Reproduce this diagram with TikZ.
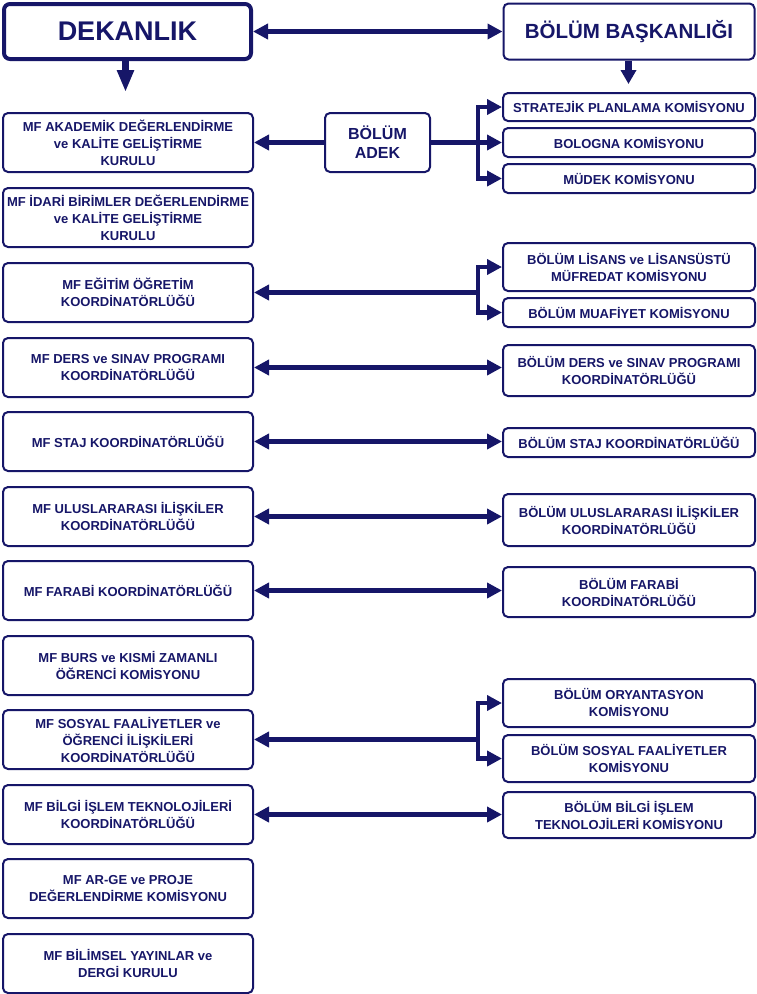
\documentclass[tikz,border=0pt]{standalone}
\usepackage{fontspec}
\setmainfont{Liberation Sans}
\usetikzlibrary{arrows.meta}
\definecolor{navy}{RGB}{22,22,104}
\begin{document}
\begin{tikzpicture}[x=1pt,y=-1pt,
  every node/.style={text=navy,align=center,inner sep=0pt},
  box/.style={draw=navy,line width=2pt,rounded corners=5pt,fill=white,
    font=\bfseries\fontsize{13}{17}\selectfont},
  lbox/.style={box,minimum width=250pt,minimum height=59pt},
  rbox/.style={box,minimum width=252pt},
  conn/.style={draw=navy,line width=4.3pt},
  arr/.style={conn,-{Triangle[length=15pt,width=15pt]}},
  darr/.style={conn,{Triangle[length=15pt,width=15pt]}-{Triangle[length=15pt,width=15pt]}},
  downarr/.style={draw=navy,line width=7pt,-{Triangle[length=22pt,width=16pt]}},
  downarrb/.style={draw=navy,line width=7.5pt,-{Triangle[length=14pt,width=15pt]}}]
\useasboundingbox (0,0) rectangle (757,994);

% top boxes
\node[draw=navy,line width=4pt,rounded corners=6pt,minimum width=247pt,minimum height=55pt,
  font=\bfseries\fontsize{27}{31}\selectfont] (dek) at (127.5,31.5) {DEKANLIK};
\node[box,minimum width=251pt,minimum height=56pt,font=\bfseries\fontsize{20.5}{24}\selectfont]
  (bb) at (629,31.5) {BÖLÜM BAŞKANLIĞI};
\draw[darr] (dek.east) -- (bb.west);
\coordinate (dekd) at (125.5,92);
\coordinate (bbd) at (628.5,84);
\draw[downarr] (dek.south -| dekd) -- (dekd);
\draw[downarrb] (bb.south -| bbd) -- (bbd);

% left column
\node[lbox] (l1) at (128,142.5) {MF AKADEMİK DEĞERLENDİRME\\ve KALİTE GELİŞTİRME\\KURULU};
\node[lbox] (l2) at (128,217.5) {MF İDARİ BİRİMLER DEĞERLENDİRME\\ve KALİTE GELİŞTİRME\\KURULU};
\node[lbox] (l3) at (128,292.5) {MF EĞİTİM ÖĞRETİM\\KOORDİNATÖRLÜĞÜ};
\node[lbox] (l4) at (128,367.5) {MF DERS ve SINAV PROGRAMI\\KOORDİNATÖRLÜĞÜ};
\node[lbox] (l5) at (128,441.5) {MF STAJ KOORDİNATÖRLÜĞÜ};
\node[lbox] (l6) at (128,516.5) {MF ULUSLARARASI İLİŞKİLER\\KOORDİNATÖRLÜĞÜ};
\node[lbox] (l7) at (128,590.5) {MF FARABİ KOORDİNATÖRLÜĞÜ};
\node[lbox] (l8) at (128,665.5) {MF BURS ve KISMİ ZAMANLI\\ÖĞRENCİ KOMİSYONU};
\node[lbox] (l9) at (128,739.5) {MF SOSYAL FAALİYETLER ve\\ÖĞRENCİ İLİŞKİLERİ\\KOORDİNATÖRLÜĞÜ};
\node[lbox] (l10) at (128,814.5) {MF BİLGİ İŞLEM TEKNOLOJİLERİ\\KOORDİNATÖRLÜĞÜ};
\node[lbox] (l11) at (128,888.5) {MF AR-GE ve PROJE\\DEĞERLENDİRME KOMİSYONU};
\node[lbox] (l12) at (128,963.5) {MF BİLİMSEL YAYINLAR ve\\DERGİ KURULU};

% ADEK
\node[box,minimum width=105pt,minimum height=59pt,font=\bfseries\fontsize{16}{19}\selectfont]
  (adek) at (377.5,142.5) {BÖLÜM\\ADEK};

% right column
\node[rbox,minimum height=28pt] (r1) at (629,107) {STRATEJİK PLANLAMA KOMİSYONU};
\node[rbox,minimum height=29pt] (r2) at (629,142.5) {BOLOGNA KOMİSYONU};
\node[rbox,minimum height=29pt] (r3) at (629,178.5) {MÜDEK KOMİSYONU};
\node[rbox,minimum height=48pt] (r4) at (629,267) {BÖLÜM LİSANS ve LİSANSÜSTÜ\\MÜFREDAT KOMİSYONU};
\node[rbox,minimum height=29pt] (r5) at (629,312.5) {BÖLÜM MUAFİYET KOMİSYONU};
\node[rbox,minimum height=51pt] (r6) at (629,370.5) {BÖLÜM DERS ve SINAV PROGRAMI\\KOORDİNATÖRLÜĞÜ};
\node[rbox,minimum height=29pt] (r7) at (629,442.5) {BÖLÜM STAJ KOORDİNATÖRLÜĞÜ};
\node[rbox,minimum height=52pt] (r8) at (629,520) {BÖLÜM ULUSLARARASI İLİŞKİLER\\KOORDİNATÖRLÜĞÜ};
\node[rbox,minimum height=50pt] (r9) at (629,592) {BÖLÜM FARABİ\\KOORDİNATÖRLÜĞÜ};
\node[rbox,minimum height=48pt] (r10) at (629,703) {BÖLÜM ORYANTASYON\\KOMİSYONU};
\node[rbox,minimum height=47pt] (r11) at (629,758.5) {BÖLÜM SOSYAL FAALİYETLER\\KOMİSYONU};
\node[rbox,minimum height=46pt] (r12) at (629,815) {BÖLÜM BİLGİ İŞLEM\\TEKNOLOJİLERİ KOMİSYONU};

% ADEK connectors
\draw[arr] (adek.west) -- (l1.east);
\coordinate (j1) at (478,142.5);
\draw[conn] (adek.east) -- (j1);
\draw[arr] (j1) |- (r1.west);
\draw[arr] (j1) -- (r2.west);
\draw[arr] (j1) |- (r3.west);

% Egitim branch
\coordinate (j2) at (478,292.5);
\draw[arr] (j2) -- (l3.east);
\draw[arr] (j2) |- (r4.west);
\draw[arr] (j2) |- (r5.west);

% double arrows
\draw[darr] (l4.east) -- (l4.east -| r6.west);
\draw[darr] (l5.east) -- (l5.east -| r7.west);
\draw[darr] (l6.east) -- (l6.east -| r8.west);
\draw[darr] (l7.east) -- (l7.east -| r9.west);
\draw[darr] (l10.east) -- (l10.east -| r12.west);

% Sosyal branch
\coordinate (j3) at (478,739.5);
\draw[arr] (j3) -- (l9.east);
\draw[arr] (j3) |- (r10.west);
\draw[arr] (j3) |- (r11.west);
\end{tikzpicture}
\end{document}
